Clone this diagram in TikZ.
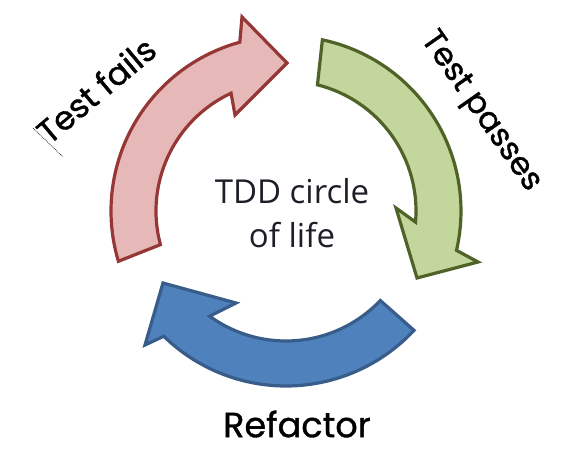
\documentclass[tikz,border=0pt]{standalone}
\usepackage{fontspec}
\setmainfont{Open Sans}
\newfontfamily\handfont[FakeBold=1]{Poppins}
\usetikzlibrary{calc}
\definecolor{redE}{HTML}{953735}
\definecolor{redF}{HTML}{E6B9B8}
\definecolor{greenE}{HTML}{4F6228}
\definecolor{greenF}{HTML}{C3D69B}
\definecolor{blueE}{HTML}{385D8A}
\definecolor{blueF}{HTML}{4F81BD}
\definecolor{titletext}{HTML}{1E1E28}
\begin{document}
\begin{tikzpicture}[x=1pt,y=1pt,
  arr/.style={line width=3.2pt, line join=miter},
  redarr/.style={arr, draw=redE, fill=redF},
  greenarr/.style={arr, draw=greenE, fill=greenF},
  bluearr/.style={arr, draw=blueE, fill=blueF},
  hand/.style={font=\handfont\fontsize{32}{38}\selectfont, text=black, inner sep=0pt},
  title/.style={font=\fontsize{33}{44}\selectfont, text=titletext, align=center, inner sep=0pt}]
\useasboundingbox (0,0) rectangle (587,458);
\coordinate (c) at (286,247);
% red arrow (Test fails)
\path[redarr] ($(c)+(196.7:175)$) arc[start angle=196.7,end angle=105.3,radius=175]
  -- (242,441) -- (287,395) -- (235,343) -- ($(c)+(115:130)$)
  arc[start angle=115,end angle=195,radius=130] -- cycle;
% green arrow (Test passes)
\path[greenarr] ($(c)+(78:175)$) arc[start angle=78,end angle=-13,radius=175]
  -- (478,196) -- (417,180) -- (396,250) -- ($(c)+(-4.9:130)$)
  arc[start angle=-4.9,end angle=76,radius=130] -- cycle;
% blue arrow (Refactor)
\path[bluearr] ($(c)+(-43:175)$) arc[start angle=-43,end angle=-134.3,radius=175]
  -- (145,113) -- (163,175) -- (236,155) -- ($(c)+(-126:130)$)
  arc[start angle=-126,end angle=-43.5,radius=130] -- cycle;
% labels
\node[hand, rotate=40, font=\handfont\fontsize{33}{38}\selectfont] (fails) at (96,368) {Test fails};
\node[hand, rotate=-55] (passes) at (480,346) {Test passes};
\node[hand, font=\handfont\fontsize{35}{40}\selectfont] (refactor) at (297,34) {Refactor};
\node[title] (tdd) at (292,245) {TDD circle\\of life};
% stray thin dotted line
\coordinate (s1) at (33,330);
\coordinate (s2) at (63,301);
\draw[line width=0.5pt, dash pattern=on 1pt off 0.8pt] (s1) -- (s2);
\end{tikzpicture}
\end{document}
